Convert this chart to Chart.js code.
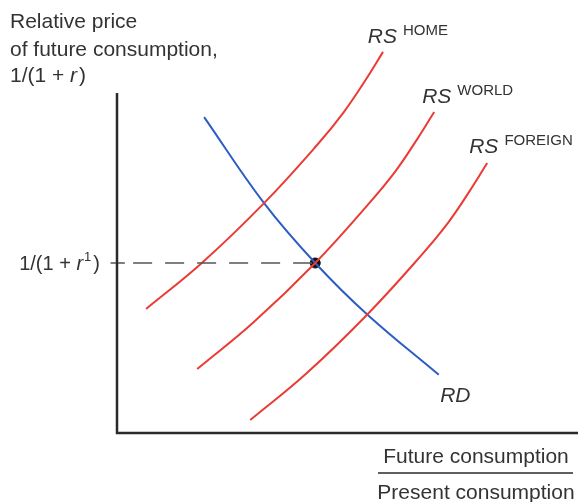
<!DOCTYPE html>
<html>
<head>
<meta charset="utf-8">
<script src="https://cdn.jsdelivr.net/npm/chart.js@4.4.1/dist/chart.umd.min.js"></script>
<style>
  html, body { margin: 0; padding: 0; background: #fff; }
  #wrap { width: 585px; height: 502px; position: relative; }
</style>
</head>
<body>
<div id="wrap"><canvas id="rsChart"></canvas></div>
<script>
  'use strict';

  // ---- data (arbitrary units 0..100) ----
  var rsHomeX    = [6.3, 18.4, 31.9, 43.4, 49.2, 54.2, 57.7];
  var rsHomeY    = [36.5, 50.0, 67.6, 84.7, 94.4, 104.4, 112.1];
  var rsWorldX   = [17.4, 29.5, 43.0, 54.4, 60.3, 65.3, 68.8];
  var rsWorldY   = [18.8, 32.4, 50.0, 67.1, 76.8, 86.8, 94.4];
  var rsForeignX = [28.9, 41.0, 54.4, 65.9, 71.8, 76.8, 80.3];
  var rsForeignY = [3.8, 17.4, 35.0, 52.1, 61.8, 71.8, 79.4];
  var rdX        = [18.9, 31.9, 43.0, 54.4, 69.8];
  var rdY        = [92.9, 67.6, 50.0, 34.7, 17.1];
  var eqX = 43.0, eqY = 50.0;
  var axisMax = 100;

  var yTitle = ["Relative price", "of future consumption,"];
  var xTitleTop = "Future consumption";
  var xTitleBottom = "Present consumption";

  function pts(xs, ys) {
    return xs.map(function (x, i) { return { x: x, y: ys[i] }; });
  }

  var RED = "#ea3b34";
  var BLUE = "#2c5dc4";
  var INK = "#2a2a2a";
  var FONT = "'Liberation Sans', Arial, Helvetica, sans-serif";

  function curve(label, data, color) {
    return {
      label: label, data: data, borderColor: color, borderWidth: 2,
      pointRadius: 0, tension: 0.4, clip: false, fill: false
    };
  }

  var datasets = [
    // axes
    { label: 'axes', data: [{x: 0, y: axisMax}, {x: 0, y: 0}, {x: axisMax, y: 0}],
      borderColor: INK, borderWidth: 2.5, pointRadius: 0, tension: 0, clip: false },
    // tick at equilibrium price
    { label: 'tick', data: [{x: -1.4, y: eqY}, {x: 1.7, y: eqY}],
      borderColor: "#555", borderWidth: 1.5, pointRadius: 0, clip: false },
    // dashed price line
    { label: 'dash', data: [{x: 3.5, y: eqY}, {x: eqX, y: eqY}],
      borderColor: "#555", borderWidth: 1.5, borderDash: [19, 13], pointRadius: 0, clip: false },
    curve('RS HOME', pts(rsHomeX, rsHomeY), RED),
    curve('RS WORLD', pts(rsWorldX, rsWorldY), RED),
    curve('RS FOREIGN', pts(rsForeignX, rsForeignY), RED),
    curve('RD', pts(rdX, rdY), BLUE),
    // equilibrium point
    { label: 'eq', data: [{x: eqX, y: eqY}], showLine: false, pointRadius: 5,
      pointBackgroundColor: "#111", pointBorderColor: "#111", clip: false }
  ];

  // draw all the text labels
  var labelPlugin = {
    id: 'labels',
    afterDatasetsDraw: function (chart) {
      var ctx = chart.ctx;
      var xs = chart.scales.x, ys = chart.scales.y;
      var ca = chart.chartArea;
      ctx.save();
      ctx.fillStyle = "#333";
      ctx.textBaseline = 'alphabetic';

      // RS labels with superscripts
      function rsLabel(main, sup, dx, dy) {
        var px = xs.getPixelForValue(dx), py = ys.getPixelForValue(dy);
        ctx.font = "italic 21px " + FONT;
        ctx.textAlign = 'left';
        ctx.fillText(main, px, py);
        if (sup) {
          var w = ctx.measureText(main).width;
          ctx.font = "15px " + FONT;
          ctx.fillText(sup, px + w + 6, py - 8);
        }
      }
      rsLabel("RS", "HOME", 54.4, 114.7);
      rsLabel("RS", "WORLD", 66.2, 97.1);
      rsLabel("RS", "FOREIGN", 76.4, 82.4);
      rsLabel("RD", null, 70.1, 9.1);

      // y title
      ctx.font = "21px " + FONT;
      ctx.textAlign = 'left';
      ctx.fillText(yTitle[0], 10, 28);
      ctx.fillText(yTitle[1], 10, 56);
      var t = "1/(1 + ";
      ctx.fillText(t, 10, 82);
      var w1 = ctx.measureText(t).width;
      ctx.font = "italic 21px " + FONT;
      ctx.fillText("r", 10 + w1, 82);
      var w2 = ctx.measureText("r").width;
      ctx.font = "21px " + FONT;
      ctx.fillText(")", 10 + w1 + w2 + 2, 82);

      // equilibrium price label, right-aligned before the axis
      var by = ys.getPixelForValue(eqY) + 7;
      ctx.font = "20px " + FONT;
      var a = "1/(1 + ", b = ")";
      var wa = ctx.measureText(a).width, wb = ctx.measureText(b).width;
      ctx.font = "italic 20px " + FONT;
      var wr = ctx.measureText("r").width;
      ctx.font = "13px " + FONT;
      var ws = ctx.measureText("1").width;
      var right = xs.getPixelForValue(0) - 17;
      var left = right - (wa + wr + ws + 3 + wb);
      ctx.font = "20px " + FONT;
      ctx.fillText(a, left, by);
      ctx.font = "italic 20px " + FONT;
      ctx.fillText("r", left + wa, by);
      ctx.font = "13px " + FONT;
      ctx.fillText("1", left + wa + wr + 1, by - 9);
      ctx.font = "20px " + FONT;
      ctx.fillText(b, left + wa + wr + ws + 3, by);

      // x title as a fraction
      var cx = ca.right - 102;
      ctx.font = "21px " + FONT;
      ctx.textAlign = 'center';
      ctx.fillText(xTitleTop, cx, ca.bottom + 30);
      ctx.fillText(xTitleBottom, cx, ca.bottom + 66);
      ctx.strokeStyle = INK;
      ctx.lineWidth = 1.5;
      ctx.beginPath();
      ctx.moveTo(cx - 98, ca.bottom + 40);
      ctx.lineTo(cx + 97, ca.bottom + 40);
      ctx.stroke();
      ctx.restore();
    }
  };

  var ctx = document.getElementById('rsChart').getContext('2d');
  new Chart(ctx, {
    type: 'line',
    data: { datasets: datasets },
    options: {
      responsive: true,
      maintainAspectRatio: false,
      animation: false,
      events: [],
      layout: { padding: { left: 117, right: 7, top: 93, bottom: 69 } },
      plugins: { legend: { display: false }, tooltip: { enabled: false } },
      scales: {
        x: { type: 'linear', min: 0, max: axisMax, display: false },
        y: { type: 'linear', min: 0, max: axisMax, display: false }
      }
    },
    plugins: [labelPlugin]
  });
</script>
</body>
</html>
